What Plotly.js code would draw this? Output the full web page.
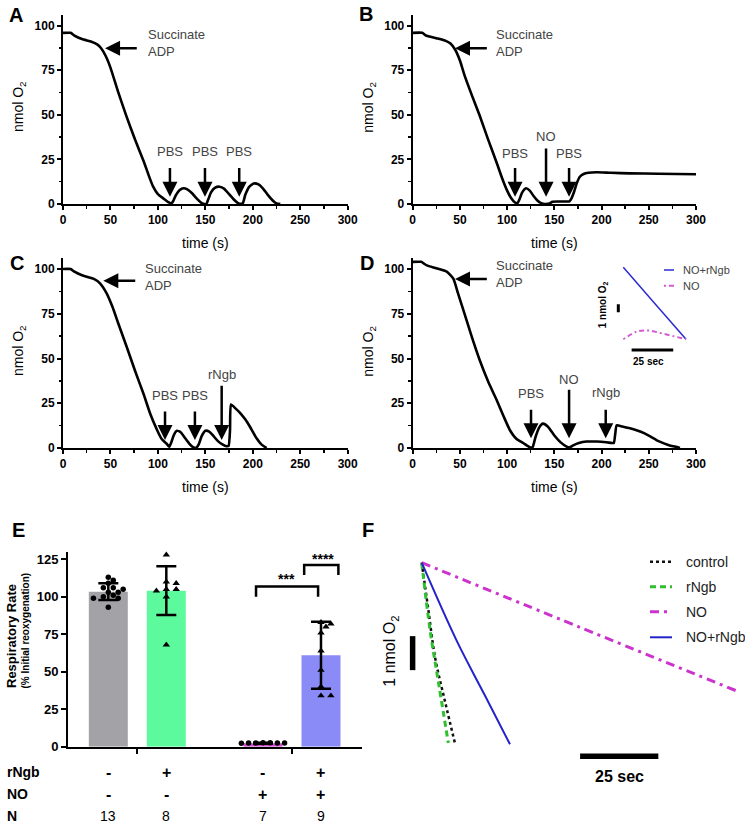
<!DOCTYPE html>
<html>
<head>
<meta charset="utf-8">
<script src="https://cdn.plot.ly/plotly-3.0.1.min.js"></script>
<style>
  html, body { margin: 0; padding: 0; background: #fff; }
  #fig { width: 745px; height: 823px; }
</style>
</head>
<body>
<div id="fig"></div>
<script>
// Oxygen traces (nmol O2 vs time in s) - panels A-D
const tA = [0, 8, 12, 20, 30, 36, 40, 45, 50, 58, 67, 76, 85, 90, 95, 100, 106, 111, 114, 116, 119, 123, 127, 131, 136, 141, 145, 148, 151, 153, 156, 160, 165, 170, 175, 180, 184, 187, 189.5, 192, 196, 201, 206, 211, 216, 221, 225, 229];
const yA = [96, 96, 94.5, 92.5, 91, 89.5, 87.5, 83, 76.5, 63, 49, 36, 24, 16.5, 9.7, 5.5, 3, 1, 0.3, 1.5, 5, 7.8, 8.8, 8.2, 6, 3, 1, 0.1, 0, 2.5, 6.5, 9, 9.7, 8.5, 5.5, 2.5, 0.7, 0.1, 0.5, 5, 9.5, 11.5, 11, 8.5, 5, 2, 0.3, 0];

const tB = [0, 10, 14, 25, 35, 40, 45, 50, 55, 63, 71, 80, 89, 95, 100, 104, 108, 111, 113, 116, 120, 124, 128, 132, 136, 140, 145, 148, 155, 162, 166, 168, 171, 174, 177, 181, 186, 195, 210, 230, 260, 300];
const yB = [96, 96, 94.5, 93, 91.5, 90, 86.5, 80.5, 72, 60.5, 49.5, 36, 23, 14, 7.5, 3.5, 1, 0.5, 2.5, 6.5, 8.8, 7.5, 4.5, 2, 0.5, 0, 0.3, 1.3, 1.4, 1.4, 1.5, 3, 7, 12, 15.3, 16.8, 17.5, 17.8, 17.5, 17.2, 17, 16.7];

const tC = [0, 8, 12, 20, 32, 39, 46, 52, 58, 67, 76, 85, 92, 99, 104, 109, 112, 114, 117, 120, 124, 128, 133, 137, 140, 143, 146, 150, 154, 158, 163, 168, 172.5, 174.5, 176, 177, 182, 187, 192, 197, 204, 209, 214.6];
const yC = [100, 100, 98.5, 96.5, 94.6, 92, 86.4, 79, 70, 56.7, 43, 30, 19, 10.2, 5, 2.5, 0.7, 3, 7.5, 9.6, 8.8, 6, 2.5, 0.5, 0, 2, 6.5, 9.6, 9.2, 7, 4, 2, 1, 1.2, 10, 24.3, 22, 19.4, 16, 11.9, 5.4, 2, 0];

const tD = [0, 9, 12, 15, 25, 36, 43, 48, 54, 62, 71, 80, 89, 96, 103, 110, 117, 122, 125, 127, 130, 134, 138, 143, 150, 157, 163, 166, 170, 176, 184, 195, 205, 211, 213, 214.5, 216, 222, 230, 237, 245, 252, 258.5, 266, 273, 279.7, 283];
const yD = [104, 104, 103, 102, 100.4, 98.5, 94.6, 86.4, 76.5, 63, 49, 37, 26.7, 18, 9.9, 5, 2.8, 1, 0.2, 0.5, 6, 11.5, 13.6, 12, 7, 3, 0.8, 0.3, 1.5, 2.8, 3.6, 3.6, 3.2, 2.8, 2.8, 8, 12.7, 12, 11, 9.9, 8.3, 6.3, 4.3, 2.6, 1.3, 0.5, 0];

// injections (label, time in s)
const eventsA = ['PBS', 'PBS', 'PBS'];
const eventTimesA = [112.7, 149.6, 185.7];
const eventsB = ['PBS', 'NO', 'PBS'];
const eventTimesB = [108.4, 141.2, 165.6];
const eventsC = ['PBS', 'PBS', 'rNgb'];
const eventTimesC = [107.5, 139, 167.2];
const eventsD = ['PBS', 'NO', 'rNgb'];
const eventTimesD = [125.3, 165.6, 204.4];

// Panel D inset (time s, nmol O2 relative)
const insetNames = ['NO+rNgb', 'NO'];
const insetT = [[0, 18, 37.7], [0, 8, 15, 24, 37.7]];
const insetY = [[0, -4.3, -9], [-9, -8.05, -7.9, -8.3, -9]];

// Panel E - respiratory rate (% initial reoxygenation)
const eGroups = ['control', 'rNgb', 'NO', 'NO+rNgb'];
const eMeans = [103.4, 104.1, 2.3, 61];
const eSD = [5.6, 16.2, 0.4, 22.3];
const ePoints = [
  [113, 111, 109, 106, 106, 105, 103, 103, 101, 100, 99, 99, 93],
  [128, 110, 109, 105, 105, 104, 100, 68],
  [2.5, 2.5, 2.4, 2.6, 2.5, 2.3, 2.6],
  [83, 82, 80, 76, 64, 51, 40, 34, 34]
];
const eRngb = ['-', '+', '-', '+'];
const eNO = ['-', '-', '+', '+'];
const eN = [13, 8, 7, 9];

// Panel F - traces (time s, nmol O2 relative)
const fNames = ['control', 'rNgb', 'NO', 'NO+rNgb'];
const fT = [[0, 2, 4.3, 7.5, 10.7], [0, 2.7, 5.5, 8.5], [0, 50, 100.6], [0, 11.2, 20, 28.2]];
const fY = [[0, -1.3, -2.8, -4.1, -5.34], [0, -2.0, -3.6, -5.3], [0, -1.88, -3.77], [0, -2.3, -3.87, -5.34]];

// ---------------------------------------------------------------
const W = 745, H = 823;
const FONT = 'Liberation Sans, Arial, Helvetica, sans-serif';
const px = v => v / W;
const py = v => 1 - v / H;
const ax = n => (n > 1 ? 'x' + n : 'x');
const ay = n => (n > 1 ? 'y' + n : 'y');

const fStyles = {
  'control': { color: '#111', dash: 'dot', width: 2.5 },
  'rNgb': { color: '#2fbf2f', dash: '6px,4px', width: 3 },
  'NO': { color: '#cc33cc', dash: '9px,5px,3px,5px', width: 3 },
  'NO+rNgb': { color: '#2323c8', dash: 'solid', width: 2 }
};
const insetStyles = {
  'NO+rNgb': { color: '#2b2bd0', dash: 'solid', width: 1.5 },
  'NO': { color: '#d25ad2', dash: '2px,3px,5px,3px', width: 2 }
};
const eColors = ['#a3a2a7', '#5cfa9c', '#d04ad0', '#8b8bf7'];
const eSymbols = ['circle', 'triangle-up', 'circle', 'triangle-up'];
const eSpread = [5.5, 5.5, 4, 5.5];

const traces = [];
const annotations = [];
const shapes = [];
const layout = {
  width: W, height: H,
  margin: { l: 0, r: 0, t: 0, b: 0 },
  paper_bgcolor: '#fff', plot_bgcolor: 'rgba(0,0,0,0)',
  showlegend: false,
  font: { family: FONT, color: '#000' }
};

// text placed in paper pixels, centred unless told otherwise
function label(x, y, text, font, extra) {
  annotations.push(Object.assign({
    xref: 'paper', yref: 'paper', x: px(x), y: py(y), text: text, showarrow: false,
    xanchor: 'center', yanchor: 'middle', font: font
  }, extra || {}));
}

const baseAxis = {
  showgrid: false, zeroline: false,
  showline: true, linecolor: '#000', linewidth: 2,
  ticks: 'outside', ticklen: 4, tickwidth: 2, tickcolor: '#000',
  tickfont: { family: FONT, size: 12, weight: 'bold', color: '#000' },
  fixedrange: true
};

// ---- panels A-D --------------------------------------------------
const panels = [
  { n: 1, t: tA, y: yA, ev: eventsA, evT: eventTimesA, xPx: [63, 347.7], y0: 204, sc: 1.783,
    tail: [21, 21, 21], tip: 4.1, lab: [29.3, 29.3, 29.3],
    succ: { tip: 44.3, tail: 79.3, y: 87.3, tx: 87.1, ty: 90.1 }, letter: 'A', lx: 15.5, ly: 14.5 },
  { n: 2, t: tB, y: yB, ev: eventsB, evT: eventTimesB, xPx: [412.7, 696], y0: 204, sc: 1.783,
    tail: [21, 32, 21], tip: 4.1, lab: [28.4, 37.7, 28.4],
    succ: { tip: 44.8, tail: 80.1, y: 87.3, tx: 86.1, ty: 90.1 }, letter: 'B', lx: 366, ly: 14 },
  { n: 3, t: tC, y: yC, ev: eventsC, evT: eventTimesC, xPx: [63, 347.7], y0: 448, sc: 1.79,
    tail: [21.2, 21.2, 35.6], tip: 4.5, lab: [29.6, 29.6, 40.8],
    succ: { tip: 42.5, tail: 77.7, y: 93.5, tx: 84.6, ty: 95.4 }, letter: 'C', lx: 17, ly: 262.5 },
  { n: 4, t: tD, y: yD, ev: eventsD, evT: eventTimesD, xPx: [412.7, 696], y0: 448, sc: 1.79,
    tail: [22.2, 33.4, 22.2], tip: 5.4, lab: [30.6, 38.4, 30.9],
    succ: { tip: 44.8, tail: 80.1, y: 94.4, tx: 86.1, ty: 97.1 }, letter: 'D', lx: 367, ly: 263 }
];
const Y_MAX = 106;

panels.forEach(p => {
  const xr = ax(p.n), yr = ay(p.n);
  const topPx = p.y0 - Y_MAX * p.sc;
  layout['xaxis' + (p.n > 1 ? p.n : '')] = Object.assign({}, baseAxis, {
    domain: [px(p.xPx[0]), px(p.xPx[1])], anchor: yr, range: [0, 300], dtick: 50, tick0: 0,
    minor: { dtick: 25, ticks: 'outside', ticklen: 2.5, tickwidth: 1.5, tickcolor: '#000' }
  });
  layout['yaxis' + (p.n > 1 ? p.n : '')] = Object.assign({}, baseAxis, {
    domain: [py(p.y0), py(topPx)], anchor: xr, range: [0, Y_MAX], tickvals: [0, 25, 50, 75, 100],
    minor: { tickvals: [12.5, 37.5, 62.5, 87.5], ticks: 'outside', ticklen: 2.5, tickwidth: 1.5, tickcolor: '#000' }
  });

  traces.push({
    x: p.t, y: p.y, xaxis: xr, yaxis: yr, type: 'scatter', mode: 'lines',
    line: { color: '#000', width: 2.6, shape: 'spline', smoothing: 0.5 }, hoverinfo: 'skip'
  });

  // injection arrows
  p.ev.forEach((name, i) => {
    annotations.push({
      xref: xr, yref: yr, axref: xr, ayref: yr,
      x: p.evT[i], y: p.tip, ax: p.evT[i], ay: p.tail[i],
      text: '', showarrow: true, arrowhead: 2, arrowsize: 1.2, arrowwidth: 2.5, arrowcolor: '#000', standoff: 0
    });
    annotations.push({
      xref: xr, yref: yr, x: p.evT[i], y: p.lab[i], text: name, showarrow: false,
      xanchor: 'center', yanchor: 'middle', font: { size: 13, color: '#444' }
    });
  });
  // substrate arrow
  annotations.push({
    xref: xr, yref: yr, axref: xr, ayref: yr,
    x: p.succ.tip, y: p.succ.y, ax: p.succ.tail, ay: p.succ.y,
    text: '', showarrow: true, arrowhead: 2, arrowsize: 1.2, arrowwidth: 2.5, arrowcolor: '#000', standoff: 0
  });
  annotations.push({
    xref: xr, yref: yr, x: p.succ.tx, y: p.succ.ty, xanchor: 'left', yanchor: 'middle', align: 'left',
    text: 'Succinate<br>ADP', showarrow: false, font: { size: 13, color: '#444' }
  });

  // axis titles and panel letter
  label((p.xPx[0] + p.xPx[1]) / 2, p.y0 + 39, 'time (s)', { size: 14 });
  label(p.xPx[0] - 44, p.y0 - 97, 'nmol O<sub>2</sub>', { size: 14 }, { textangle: -90 });
  label(p.lx, p.ly, p.letter, { size: 20, weight: 'bold' });
});

// ---- inset of panel D --------------------------------------------
(function () {
  const n = 7, xr = ax(n), yr = ay(n);
  const t0 = 623.3, sx = 1.664, v0 = 267.3, sy = 8;
  const xPx = [600, 700], yPx = [258, 372];
  layout.xaxis7 = { domain: [px(xPx[0]), px(xPx[1])], range: [(xPx[0] - t0) / sx, (xPx[1] - t0) / sx], anchor: yr, visible: false, fixedrange: true };
  layout.yaxis7 = { domain: [py(yPx[1]), py(yPx[0])], range: [-(yPx[1] - v0) / sy, (v0 - yPx[0]) / sy], anchor: xr, visible: false, fixedrange: true };
  insetNames.forEach((name, i) => {
    const st = insetStyles[name];
    traces.push({
      x: insetT[i], y: insetY[i], xaxis: xr, yaxis: yr, type: 'scatter', mode: 'lines',
      line: { color: st.color, width: st.width, dash: st.dash, shape: 'spline' }, hoverinfo: 'skip'
    });
    const ly = [270, 285.7][i];
    shapes.push({ type: 'line', xref: 'paper', yref: 'paper', x0: px(664), x1: px(674), y0: py(ly), y1: py(ly),
      line: { color: st.color, width: st.width, dash: st.dash } });
    label(681, ly, name, { size: 11, color: '#444' }, { xanchor: 'left' });
  });
  // scale bars: 25 s and 1 nmol
  shapes.push({ type: 'line', xref: xr, yref: yr, x0: 5, x1: 30, y0: -10.34, y1: -10.34, line: { color: '#000', width: 3 } });
  shapes.push({ type: 'line', xref: xr, yref: yr, x0: -3, x1: -3, y0: -4.62, y1: -5.62, line: { color: '#000', width: 3 } });
  label(648.3, 361.7, '25 sec', { size: 10, weight: 'bold' });
  label(603.3, 305, '1 nmol O<sub>2</sub>', { size: 10, weight: 'bold' }, { textangle: -90 });
})();

// ---- panel E -----------------------------------------------------
const GROUP_GAP = 2.667;
const eX = eGroups.map((g, i) => Math.floor(i / 2) * GROUP_GAP + (i % 2));
const ePxX = 58, ePxY = 1.4986;

// simple beeswarm so equal values spread sideways
function swarm(values, center, diam) {
  const placed = [];
  const xs = new Array(values.length);
  const order = values.map((v, i) => i).sort((a, b) => values[b] - values[a]);
  order.forEach(i => {
    const v = values[i];
    for (let k = 0; k < 60; k++) {
      const off = (k === 0 ? 0 : (k % 2 ? 1 : -1) * Math.ceil(k / 2)) * diam * 0.9;
      const ok = placed.every(p => Math.hypot(p.dx - off, (p.v - v) * ePxY) >= diam);
      if (ok) { placed.push({ dx: off, v: v }); xs[i] = center + off / ePxX; break; }
    }
  });
  return xs;
}

layout.xaxis5 = Object.assign({}, baseAxis, {
  domain: [px(68), px(362)], anchor: 'y5', range: [-0.695, 4.374],
  tickvals: [(eX[0] + eX[1]) / 2, (eX[2] + eX[3]) / 2], showticklabels: false, ticklen: 5
});
layout.yaxis5 = Object.assign({}, baseAxis, {
  domain: [py(746.7), py(551.8)], anchor: 'x5', range: [0, 130], tickvals: [0, 25, 50, 75, 100, 125], ticklen: 5,
  tickfont: { family: FONT, size: 13, weight: 'bold', color: '#000' }
});

traces.push({
  x: eX, y: eMeans, xaxis: 'x5', yaxis: 'y5', type: 'bar', width: 0.672,
  marker: { color: eColors, line: { width: 0 } },
  error_y: { type: 'data', array: eSD, visible: true, color: '#000', thickness: 2.5, width: 10 },
  hoverinfo: 'skip'
});
ePoints.forEach((vals, i) => {
  traces.push({
    x: swarm(vals, eX[i], eSpread[i]), y: vals, xaxis: 'x5', yaxis: 'y5', type: 'scatter', mode: 'markers',
    marker: { color: '#000', size: eSymbols[i] === 'circle' ? 5.5 : 6.5, symbol: eSymbols[i] }, hoverinfo: 'skip', cliponaxis: false
  });
});

// significance brackets
const brackets = [
  { x1: eX[2] - 0.12, x2: eX[3] - 0.05, top: 106.8, bot: 100.1, label: '***', lx: 3.076, ly: 112 },
  { x1: eX[3] - 0.29, x2: eX[3] + 0.3, top: 121.2, bot: 114.6, label: '****', lx: 3.707, ly: 125.5 }
];
brackets.forEach(b => {
  shapes.push({ type: 'path', xref: 'x5', yref: 'y5',
    path: `M ${b.x1},${b.bot} L ${b.x1},${b.top} L ${b.x2},${b.top} L ${b.x2},${b.bot}`,
    line: { color: '#000', width: 2.5 } });
  annotations.push({ xref: 'x5', yref: 'y5', x: b.lx, y: b.ly, text: b.label, showarrow: false,
    xanchor: 'center', yanchor: 'middle', font: { size: 14, weight: 'bold' } });
});

// treatment table under E
const rows = [
  { name: 'rNgb', vals: eRngb, y: 772, bold: true },
  { name: 'NO', vals: eNO, y: 794, bold: true },
  { name: 'N', vals: eN, y: 815.5, bold: false }
];
rows.forEach(r => {
  label(5, r.y, r.name, { size: 14, weight: 'bold' }, { xanchor: 'left' });
  r.vals.forEach((v, i) => {
    annotations.push({ xref: 'x5', yref: 'paper', x: eX[i], y: py(r.y), text: String(v), showarrow: false,
      xanchor: 'center', yanchor: 'middle', font: { size: r.bold ? 16 : 14, weight: r.bold ? 'bold' : 'normal' } });
  });
});
label(11, 636, 'Respiratory Rate', { size: 13, weight: 'bold' }, { textangle: -90 });
label(24.5, 631, '(% Initial reoxygenation)', { size: 10, weight: 'bold' }, { textangle: -90 });
label(18, 529.5, 'E', { size: 20, weight: 'bold' });

// ---- panel F -----------------------------------------------------
(function () {
  const n = 6, xr = ax(n), yr = ay(n);
  const t0 = 421.7, sx = 3.13, v0 = 562.7, sy = 34;
  const xPx = [380, 745], yPx = [545, 800];
  layout.xaxis6 = { domain: [px(xPx[0]), px(xPx[1])], range: [(xPx[0] - t0) / sx, (xPx[1] - t0) / sx], anchor: yr, visible: false, fixedrange: true };
  layout.yaxis6 = { domain: [py(yPx[1]), py(yPx[0])], range: [-(yPx[1] - v0) / sy, (v0 - yPx[0]) / sy], anchor: xr, visible: false, fixedrange: true };
  fNames.forEach((name, i) => {
    const st = fStyles[name];
    traces.push({
      x: fT[i], y: fY[i], xaxis: xr, yaxis: yr, type: 'scatter', mode: 'lines',
      line: { color: st.color, width: st.width, dash: st.dash, shape: 'spline' }, hoverinfo: 'skip'
    });
    const ly = [561.7, 586.7, 611.7, 637.3][i];
    shapes.push({ type: 'line', xref: 'paper', yref: 'paper', x0: px(650), x1: px(672), y0: py(ly), y1: py(ly),
      line: { color: st.color, width: st.width, dash: st.dash } });
    label(684, ly, name, { size: 14, color: '#222' }, { xanchor: 'left' });
  });
  // scale bars: 25 s and 1 nmol
  shapes.push({ type: 'line', xref: xr, yref: yr, x0: 50.6, x1: 75.6, y0: -5.69, y1: -5.69, line: { color: '#000', width: 5.5 } });
  shapes.push({ type: 'line', xref: xr, yref: yr, x0: -2.9, x1: -2.9, y0: -2.16, y1: -3.16, line: { color: '#000', width: 5.5 } });
  label(619, 776.7, '25 sec', { size: 16, weight: 'bold' });
  label(391, 651.7, '1 nmol O<sub>2</sub>', { size: 16 }, { textangle: -90 });
  label(368, 530, 'F', { size: 20, weight: 'bold' });
})();

layout.annotations = annotations;
layout.shapes = shapes;

Plotly.newPlot('fig', traces, layout, { displayModeBar: false, staticPlot: true });
</script>
</body>
</html>
